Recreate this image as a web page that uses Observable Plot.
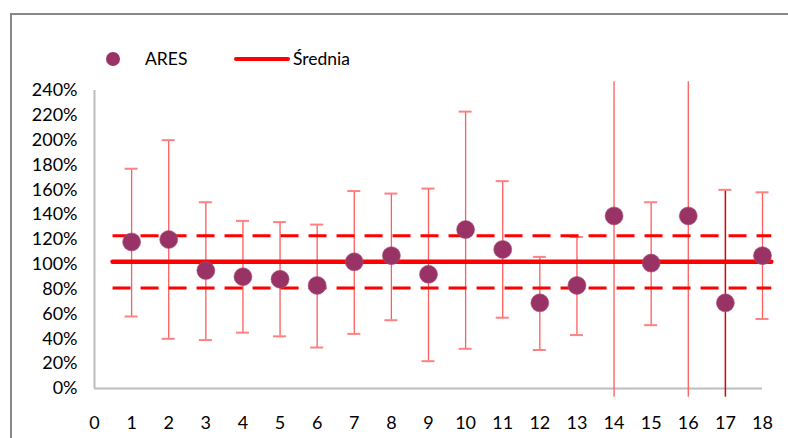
<!DOCTYPE html>
<html>
<head>
<meta charset="utf-8">
<script src="https://cdn.jsdelivr.net/npm/d3@7"></script>
<script src="https://cdn.jsdelivr.net/npm/@observablehq/plot@0.6"></script>
<style>
  html, body { margin: 0; padding: 0; background: #fff; }
  #wrap { position: relative; width: 788px; height: 438px; overflow: hidden; font-family: Lato, "Open Sans", sans-serif; }
  #frame { position: absolute; left: 10px; top: 13px; width: 800px; height: 440px; border-top: 2px solid #878787; border-left: 2px solid #878787; pointer-events: none; }
  #legend { position: absolute; left: 0; top: 0; width: 788px; height: 40px; font-size: 17.5px; color: #000; }
  .lg { position: absolute; top: 48px; line-height: 22px; }
  .sw-dot { position: absolute; left: 106px; top: 52px; width: 14px; height: 14px; border-radius: 50%; background: #993366; }
  .sw-line { position: absolute; left: 234px; top: 57px; width: 56px; height: 4px; border-radius: 2px; background: #ff0000; }
</style>
</head>
<body>
<div id="wrap">
  <div id="chart"></div>
  <div id="frame"></div>
  <div id="legend">
    <div class="sw-dot"></div><div class="lg" style="left:145px">ARES</div>
    <div class="sw-line"></div><div class="lg" style="left:293px">Średnia</div>
  </div>
</div>
<script>
const sampleIds = [1, 2, 3, 4, 5, 6, 7, 8, 9, 10, 11, 12, 13, 14, 15, 16, 17, 18];
const aresValues = [118, 120, 95, 90, 88, 83, 102, 107, 92, 128, 112, 69, 83, 139, 101, 139, 69, 107];
const upperValues = [177, 200, 150, 135, 134, 132, 159, 157, 161, 223, 167, 106, 122, 247, 150, 247, 160, 158];
const lowerValues = [58, 40, 39, 45, 42, 33, 44, 55, 22, 32, 57, 31, 43, -7, 51, -7, -7, 56];
const meanValue = 102;
const meanUpper = 123;
const meanLower = 81;
const meanStart = 0.5;
const meanEnd = 18.25;
const xTicks = d3.range(0, 19);
const yTicks = d3.range(0, 241, 20);

const data = sampleIds.map((x, i) => ({x, v: aresValues[i], hi: upperValues[i], lo: lowerValues[i]}));
const capHalf = 0.175;
const topCaps = data.filter(d => d.hi <= 240);
const botCaps = data.filter(d => d.lo >= 0);

const chart = Plot.plot({
  width: 788,
  height: 438,
  marginLeft: 94,
  marginRight: 26,
  marginTop: 90,
  marginBottom: 50,
  style: {fontFamily: "Lato, 'Open Sans', sans-serif", fontSize: "18px", color: "#000", background: "transparent"},
  x: {domain: [0, 18], ticks: xTicks, tickSize: 0, tickPadding: 28, tickFormat: d => String(d), label: null},
  y: {domain: [0, 240], ticks: yTicks, tickSize: 0, tickPadding: 17, tickFormat: d => d + "%", label: null},
  marks: [
    Plot.ruleY([0], {stroke: "#bdbdbd", strokeWidth: 2}),
    Plot.ruleX([0], {y1: 0, y2: 240, stroke: "#bdbdbd", strokeWidth: 2}),
    Plot.ruleX(data, {x: "x", y1: "lo", y2: "hi", stroke: d => d.x === 17 ? "#d80000" : "#ff5c5c", strokeWidth: d => d.x === 17 ? 1.5 : 1.3}),
    Plot.ruleY(topCaps, {y: "hi", x1: d => d.x - capHalf, x2: d => d.x + capHalf, stroke: "#ff8080", strokeWidth: 2}),
    Plot.ruleY(botCaps, {y: "lo", x1: d => d.x - capHalf, x2: d => d.x + capHalf, stroke: "#ff8080", strokeWidth: 2}),
    Plot.ruleY([meanUpper, meanLower], {x1: meanStart, x2: meanEnd, stroke: "#ff0000", strokeWidth: 3, strokeDasharray: "18,10"}),
    Plot.ruleY([meanValue], {x1: meanStart, x2: meanEnd, stroke: "#ff0000", strokeWidth: 4.5, strokeLinecap: "round"}),
    Plot.dot(data, {x: "x", y: "v", r: 9, fill: "#993366", stroke: "#a6557f", strokeWidth: 0.6})
  ]
});
document.getElementById("chart").appendChild(chart);
</script>
</body>
</html>
